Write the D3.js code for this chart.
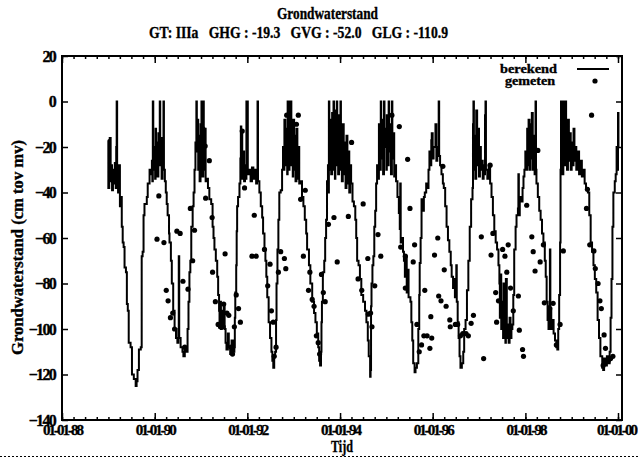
<!DOCTYPE html>
<html>
<head>
<meta charset="utf-8">
<script src="https://d3js.org/d3.v7.min.js"></script>
<style>
  body { margin: 0; background: #fff; }
  text { font-family: "Liberation Serif", "Times New Roman", serif; font-weight: bold; fill: #000; stroke: #000; stroke-width: 0.35px; }
</style>
</head>
<body>
<div id="grafiek"></div>
<script>
// Titels en asteksten
var titel = "Grondwaterstand";
var subtitel = "GT: IIIa   GHG : -19.3   GVG : -52.0   GLG : -110.9";
var yLabel = "Grondwaterstand (cm tov mv)";
var xLabel = "Tijd";
var legendaNamen = ["berekend", "gemeten"];
var yTicks = [20, 0, -20, -40, -60, -80, -100, -120, -140];
var xTickJaren = [1988, 1990, 1992, 1994, 1996, 1998, 2000];

// berekend: [decimaal jaar, cm tov mv]
var berekend = [
[1988.99,-17],[1989.00,-38],[1989.02,-30],[1989.03,-16],[1989.05,-35],[1989.07,-28],[1989.08,-39],[1989.10,-30],[1989.12,-36],[1989.14,-27],[1989.16,-38],[1989.17,-20],[1989.18,0],[1989.19,-30],[1989.21,-40],[1989.23,-28],[1989.25,-46],[1989.27,-42],[1989.29,-55],[1989.31,-62],[1989.33,-64],[1989.35,-73],[1989.38,-75],[1989.40,-89],[1989.42,-92],[1989.44,-106],[1989.48,-108],[1989.51,-120],[1989.55,-122],[1989.59,-125],[1989.61,-123],[1989.63,-118],[1989.66,-109],[1989.70,-108],[1989.72,-90],[1989.72,-68],[1989.74,-66],[1989.76,-50],[1989.78,-45],[1989.83,-42],[1989.85,-36],[1989.89,-30],[1989.92,-32],[1989.94,-26],[1989.95,-35],[1989.96,0],[1989.97,-30],[1990.00,-20],[1990.01,-34],[1990.02,-12],[1990.03,-30],[1990.04,-18],[1990.06,-33],[1990.08,-14],[1990.10,-28],[1990.11,0],[1990.12,-25],[1990.14,-16],[1990.15,-34],[1990.17,-20],[1990.19,0],[1990.20,-30],[1990.22,-35],
[1990.24,-40],[1990.26,-45],[1990.28,-50],[1990.31,-58],[1990.32,-62],[1990.35,-70],[1990.37,-80],[1990.40,-92],[1990.43,-100],[1990.46,-104],[1990.49,-106],[1990.51,-100],[1990.52,-68],[1990.53,-104],[1990.56,-108],[1990.60,-110],[1990.62,-112],[1990.65,-108],[1990.68,-110],[1990.71,-100],[1990.73,-88],[1990.75,-75],[1990.77,-70],[1990.79,-55],[1990.82,-46],[1990.84,-40],[1990.86,-30],[1990.88,-18],[1990.90,0],[1990.91,-22],[1990.93,-8],[1990.94,-30],[1990.96,-15],[1990.97,-35],[1990.99,-10],[1991.00,-28],[1991.01,0],[1991.02,-20],[1991.03,-33],[1991.05,0],[1991.06,-18],[1991.07,-30],[1991.09,-12],[1991.10,-35],
[1991.12,-34],[1991.15,-38],[1991.18,-43],[1991.22,-45],[1991.25,-55],[1991.27,-60],[1991.29,-65],[1991.32,-70],[1991.35,-77],[1991.37,-85],[1991.39,-92],[1991.40,-97],[1991.42,-88],[1991.43,-100],[1991.45,-92],[1991.47,-98],[1991.49,-90],[1991.51,-100],[1991.53,-106],[1991.55,-109],[1991.58,-102],[1991.60,-108],[1991.63,-111],[1991.66,-105],[1991.69,-110],[1991.72,-108],[1991.73,-95],[1991.74,-84],[1991.76,-72],[1991.77,-57],[1991.78,-46],[1991.80,-42],[1991.83,-36],[1991.85,-25],[1991.86,-11],[1991.87,-30],[1991.88,-14],[1991.89,-34],[1991.91,-22],[1991.93,-35],[1991.95,-28],[1991.97,-34],[1991.98,0],[1991.99,-30],[1992.00,0],[1992.01,-32],[1992.04,-30],[1992.07,-35],[1992.10,-29],[1992.13,-34],[1992.16,-30],[1992.19,-36],[1992.21,-32],[1992.22,0],[1992.23,-35],
[1992.26,-40],[1992.29,-46],[1992.32,-51],[1992.34,-58],[1992.37,-65],[1992.39,-70],[1992.41,-77],[1992.43,-86],[1992.46,-97],[1992.49,-104],[1992.52,-110],[1992.54,-114],[1992.56,-117],[1992.58,-112],[1992.60,-110],[1992.62,-96],[1992.63,-80],[1992.65,-65],[1992.67,-52],[1992.69,-40],[1992.72,-39],[1992.75,-30],[1992.77,-20],[1992.79,-30],[1992.80,-8],[1992.82,-28],[1992.84,-12],[1992.86,-32],[1992.87,0],[1992.88,-25],[1992.89,-6],[1992.90,-30],[1992.91,0],[1992.92,-18],[1992.94,0],[1992.95,-28],[1992.96,-10],[1992.98,-33],[1992.99,-8],[1993.01,-30],[1993.02,-15],[1993.04,-35],[1993.06,-12],[1993.08,-34],[1993.10,-20],[1993.12,-36],
[1993.15,-35],[1993.18,-42],[1993.21,-46],[1993.24,-52],[1993.27,-58],[1993.29,-65],[1993.33,-72],[1993.36,-80],[1993.40,-88],[1993.44,-93],[1993.47,-97],[1993.50,-102],[1993.53,-108],[1993.55,-114],[1993.57,-116],[1993.59,-110],[1993.60,-97],[1993.61,-88],[1993.63,-75],[1993.66,-70],[1993.68,-60],[1993.70,-52],[1993.72,-35],[1993.74,-28],[1993.75,-40],[1993.76,0],[1993.77,-30],[1993.79,-8],[1993.81,-32],[1993.83,-5],[1993.85,-30],[1993.86,0],[1993.87,-20],[1993.89,-34],[1993.90,-4],[1993.92,-28],[1993.93,0],[1993.94,-15],[1993.96,-32],[1993.98,-6],[1994.00,-30],[1994.01,0],[1994.02,-20],[1994.04,-35],[1994.06,-10],[1994.08,-32],[1994.10,-18],[1994.12,-38],[1994.14,-15],[1994.16,-36],[1994.18,-22],[1994.20,-40],
[1994.22,-28],[1994.24,-36],[1994.27,-44],[1994.30,-46],[1994.33,-52],[1994.35,-60],[1994.37,-70],[1994.40,-72],[1994.43,-78],[1994.46,-85],[1994.50,-88],[1994.54,-92],[1994.57,-97],[1994.60,-105],[1994.62,-112],[1994.65,-121],[1994.66,-118],[1994.67,-90],[1994.68,-80],[1994.70,-72],[1994.72,-68],[1994.74,-55],[1994.76,-48],[1994.78,-36],[1994.80,-28],[1994.82,-34],[1994.84,-10],[1994.86,-30],[1994.88,0],[1994.89,-25],[1994.91,-8],[1994.93,-32],[1994.95,0],[1994.96,-20],[1994.98,-12],[1995.00,-30],[1995.01,-6],[1995.03,-28],[1995.05,0],[1995.06,-22],[1995.08,-10],[1995.10,-32],[1995.12,0],[1995.13,-25],[1995.15,-14],[1995.17,-33],[1995.19,-28],
[1995.21,-35],[1995.24,-42],[1995.27,-49],[1995.29,-56],[1995.30,-36],[1995.31,-62],[1995.33,-60],[1995.36,-66],[1995.38,-70],[1995.40,-77],[1995.42,-68],[1995.44,-84],[1995.46,-74],[1995.48,-86],[1995.52,-88],[1995.54,-97],[1995.56,-105],[1995.58,-115],[1995.61,-119],[1995.63,-117],[1995.66,-115],[1995.69,-100],[1995.71,-85],[1995.72,-71],[1995.74,-60],[1995.76,-43],[1995.79,-48],[1995.81,-42],[1995.83,-40],[1995.86,-36],[1995.88,-38],[1995.91,-30],[1995.93,-22],[1995.95,-28],[1995.97,-17],[1995.98,-14],[1996.00,-25],[1996.02,-20],[1996.06,-10],[1996.08,-26],[1996.10,-20],[1996.13,0],[1996.14,-24],[1996.16,-28],[1996.19,-32],[1996.22,-36],[1996.24,-38],
[1996.27,-46],[1996.30,-55],[1996.33,-61],[1996.36,-66],[1996.39,-72],[1996.41,-77],[1996.44,-82],[1996.46,-78],[1996.48,-86],[1996.50,-84],[1996.51,-72],[1996.52,-88],[1996.54,-97],[1996.56,-104],[1996.58,-112],[1996.60,-117],[1996.63,-115],[1996.66,-110],[1996.68,-100],[1996.71,-96],[1996.74,-83],[1996.77,-70],[1996.80,-55],[1996.83,-43],[1996.86,-38],[1996.87,-10],[1996.88,0],[1996.89,-30],[1996.91,-15],[1996.92,-34],[1996.94,-4],[1996.96,-28],[1996.98,-12],[1997.00,-33],[1997.02,-20],[1997.04,-30],[1997.06,-26],[1997.08,-34],[1997.10,-28],[1997.12,-32],[1997.13,-6],[1997.14,0],[1997.15,-30],[1997.18,-34],[1997.21,-28],[1997.24,-36],
[1997.27,-42],[1997.30,-50],[1997.33,-57],[1997.36,-62],[1997.39,-65],[1997.42,-72],[1997.44,-80],[1997.45,-95],[1997.46,-76],[1997.48,-100],[1997.50,-88],[1997.52,-104],[1997.53,-80],[1997.55,-100],[1997.57,-106],[1997.58,-78],[1997.60,-104],[1997.62,-98],[1997.64,-106],[1997.66,-95],[1997.68,-104],[1997.70,-100],[1997.72,-98],[1997.74,-85],[1997.76,-65],[1997.79,-55],[1997.81,-50],[1997.84,-47],[1997.85,-32],[1997.86,-50],[1997.88,-42],[1997.91,-44],[1997.94,-38],[1997.96,-33],[1997.98,-30],[1998.00,-22],[1998.02,-30],[1998.04,-12],[1998.06,-28],[1998.07,-8],[1998.09,-30],[1998.11,-10],[1998.13,-25],[1998.14,-5],[1998.16,-30],[1998.18,-15],[1998.20,-32],[1998.22,0],[1998.23,-30],[1998.24,-36],
[1998.27,-42],[1998.30,-48],[1998.33,-52],[1998.36,-58],[1998.39,-62],[1998.42,-70],[1998.44,-77],[1998.46,-88],[1998.48,-96],[1998.50,-100],[1998.52,-90],[1998.53,-65],[1998.54,-92],[1998.56,-100],[1998.58,-96],[1998.61,-102],[1998.64,-105],[1998.67,-108],[1998.69,-109],[1998.71,-100],[1998.73,-85],[1998.75,-62],[1998.76,-30],[1998.77,0],[1998.78,-25],[1998.79,-10],[1998.80,-32],[1998.82,0],[1998.83,-22],[1998.84,-8],[1998.85,-28],[1998.87,0],[1998.88,-20],[1998.90,-30],[1998.92,-8],[1998.94,-26],[1998.96,-14],[1998.98,-30],[1999.00,-18],[1999.02,-28],[1999.04,-12],[1999.06,-26],[1999.08,-20],[1999.10,-30],[1999.13,-22],[1999.16,-32],[1999.19,-26],[1999.22,-33],[1999.25,-30],
[1999.28,-36],[1999.31,-38],[1999.35,-40],[1999.38,-50],[1999.41,-62],[1999.44,-66],[1999.47,-72],[1999.50,-78],[1999.53,-84],[1999.56,-96],[1999.59,-104],[1999.62,-112],[1999.66,-117],[1999.68,-118],[1999.70,-113],[1999.73,-116],[1999.76,-112],[1999.79,-115],[1999.82,-110],[1999.84,-95],[1999.86,-78],[1999.88,-55],[1999.90,-40],[1999.93,-35],[1999.95,-32],[1999.97,-20],[1999.98,-30],[2000.00,-5],[2000.01,-20]
];

// gemeten: [decimaal jaar, cm tov mv]
var gemeten = [
[1990.09,-41.5],[1990.05,-60.5],[1990.20,-62],[1990.25,-83],[1990.29,-87.6],[1990.34,-95],[1990.39,-93],[1990.43,-100],[1990.48,-57],[1990.55,-58],[1990.61,-79],[1990.65,-108],[1990.72,-82.5],[1990.77,-47],[1990.82,-70],[1990.86,-56.6],
[1991.04,-12],[1991.09,-19.6],[1991.10,-42.5],[1991.18,-26],[1991.24,-51],[1991.25,-75],[1991.31,-88],[1991.37,-98],[1991.42,-99],[1991.48,-99],[1991.49,-89],[1991.52,-67],[1991.56,-93],[1991.60,-94],[1991.65,-108],[1991.68,-111],[1991.72,-99],[1991.76,-85],[1991.81,-91],[1991.85,-97],[1991.89,-13],[1991.94,-38],
[1992.10,-68],[1992.19,-68],[1992.15,-50],[1992.37,-65],[1992.44,-81],[1992.49,-71.5],[1992.52,-92],[1992.56,-97],[1992.58,-112],[1992.62,-108],[1992.67,-75],[1992.72,-66],[1992.80,-69],[1992.83,-73.5],[1992.85,-6],
[1993.06,-10],[1993.10,-6],[1993.15,-43],[1993.21,-68],[1993.25,-39],[1993.32,-83],[1993.35,-75],[1993.40,-87],[1993.44,-90],[1993.49,-103],[1993.53,-106],[1993.56,-111],[1993.60,-76],[1993.64,-84],[1993.68,-88],[1993.75,-54],[1993.87,-51],[1993.94,-70.5],
[1994.18,-50.5],[1994.25,-18],[1994.39,-78],[1994.47,-83],[1994.50,-45],[1994.60,-69],[1994.61,-93.5],[1994.66,-93],[1994.69,-99],[1994.75,-81],[1994.82,-58.5],[1994.88,-68],
[1995.12,-6],[1995.28,-11],[1995.31,-64],[1995.41,-68],[1995.41,-82],[1995.46,-25.4],[1995.51,-47],[1995.58,-70.5],[1995.61,-63],[1995.66,-98],[1995.71,-110],[1995.76,-107],[1995.81,-103],[1995.83,-83],[1995.88,-103],[1995.94,-108.5],[1995.96,-94.6],[1995.98,-104],
[1996.04,-67.5],[1996.11,-60],[1996.13,-85.5],[1996.18,-87.6],[1996.22,-28.5],[1996.25,-74],[1996.29,-90],[1996.37,-96],[1996.38,-99],[1996.49,-98],[1996.54,-98],[1996.60,-103],[1996.65,-102],[1996.72,-102],[1996.77,-103],[1996.83,-97.5],[1996.88,-94],
[1997.05,-59.5],[1997.10,-113],[1997.24,-28],[1997.26,-67.5],[1997.30,-58],[1997.36,-84],[1997.38,-97],[1997.42,-87.6],[1997.51,-65],[1997.55,-96],[1997.56,-68],[1997.60,-75],[1997.63,-63],[1997.68,-82],[1997.74,-92],[1997.85,-85.5],[1997.87,-100.5],[1997.94,-109],[1997.96,-112],
[1998.03,-45.6],[1998.14,-59.5],[1998.17,-66],[1998.21,-74.5],[1998.27,-21.5],[1998.32,-70.5],[1998.39,-63],[1998.41,-88.5],[1998.53,-91],[1998.60,-88.7],[1998.67,-107],[1998.75,-98],[1998.82,-65.7],
[1999.32,-47],[1999.34,-38.6],[1999.39,-63],[1999.43,-6],[1999.48,-65.7],[1999.51,-73.4],[1999.57,-80],[1999.61,-87.6],[1999.64,-91],[1999.68,-116],[1999.70,-102.6],[1999.73,-108.5],[1999.79,-114],[1999.84,-113],[1999.89,-112]
];

function naarDatum(jaar) {
    // decimaal jaar -> Date
    var begin = new Date(1988, 0, 1).getTime();
    return new Date(begin + (jaar - 1988) * 365.25 * 864e5);
}

// tekst in de smalle gnuplot-letter: vaste breedte
function smal(sel, lengte) {
    return sel.attr("textLength", lengte).attr("lengthAdjust", "spacingAndGlyphs");
}

var breedte = 638, hoogte = 462;
var links = 62, rechts = 622, boven = 56, onder = 420;

var svg = d3.select("#grafiek").append("svg")
    .attr("width", breedte)
    .attr("height", hoogte);

// 01-01-00 ligt net binnen de rechterrand
var x = d3.scaleTime()
    .domain([new Date(1988, 0, 1), new Date(2000, 0, 1)])
    .range([links, 618]);

var y = d3.scaleLinear()
    .domain([-140, 20])
    .range([onder, boven]);

var fmt = d3.timeFormat("%d-%m-%y");
var hoofdTicks = xTickJaren.map(function(j) { return new Date(j, 0, 1); });
var kwartTicks = d3.timeMonth.every(3).range(new Date(1988, 0, 1), new Date(2000, 0, 2));

// minor ticks onder en boven
svg.append("g")
    .attr("transform", "translate(0," + onder + ")")
    .call(d3.axisBottom(x).tickValues(kwartTicks).tickSize(-3).tickSizeOuter(0).tickFormat(""));
svg.append("g")
    .attr("transform", "translate(0," + boven + ")")
    .call(d3.axisTop(x).tickValues(kwartTicks).tickSize(-3).tickSizeOuter(0).tickFormat(""));

// hoofdticks
var xAs = svg.append("g")
    .attr("transform", "translate(0," + onder + ")")
    .call(d3.axisBottom(x).tickValues(hoofdTicks).tickSize(-7).tickSizeOuter(0).tickPadding(4).tickFormat(fmt));
svg.append("g")
    .attr("transform", "translate(0," + boven + ")")
    .call(d3.axisTop(x).tickValues(hoofdTicks).tickSize(-7).tickSizeOuter(0).tickFormat(""));

var yAs = svg.append("g")
    .attr("transform", "translate(" + links + ",0)")
    .call(d3.axisLeft(y).tickValues(yTicks).tickSize(-6).tickSizeOuter(0).tickPadding(7));
svg.append("g")
    .attr("transform", "translate(" + rechts + ",0)")
    .call(d3.axisRight(y).tickValues(yTicks).tickSize(-6).tickSizeOuter(0).tickFormat(""));

svg.selectAll(".domain").remove();
svg.selectAll(".tick line").attr("stroke", "#000").attr("stroke-width", 1.5);
xAs.selectAll("text").style("font-size", "15px").style("letter-spacing", "-2px");
xAs.selectAll(".tick:last-of-type text").attr("dx", "-2px");
yAs.selectAll("text").style("font-size", "16px").style("letter-spacing", "-1.7px");

// lijn berekend (trapjes zoals de modeluitvoer)
var lijn = d3.line()
    .curve(d3.curveStepAfter)
    .x(function(d) { return x(naarDatum(d[0])); })
    .y(function(d) { return y(d[1]); });

svg.append("path")
    .datum(berekend)
    .attr("d", lijn)
    .attr("fill", "none")
    .attr("stroke", "#000")
    .attr("stroke-width", 2);

// punten gemeten
svg.selectAll("circle.gemeten")
    .data(gemeten)
    .enter()
    .append("circle")
    .attr("class", "gemeten")
    .attr("cx", function(d) { return x(naarDatum(d[0])); })
    .attr("cy", function(d) { return y(d[1]); })
    .attr("r", 2.6)
    .attr("fill", "#000");

// kader
svg.append("rect")
    .attr("x", links)
    .attr("y", boven)
    .attr("width", rechts - links)
    .attr("height", onder - boven)
    .attr("fill", "none")
    .attr("stroke", "#000")
    .attr("stroke-width", 2);

// titels
smal(svg.append("text")
    .attr("x", 277).attr("y", 19)
    .style("font-size", "16px")
    .text(titel), 101);
smal(svg.append("text")
    .attr("x", 149).attr("y", 38)
    .style("font-size", "16px")
    .style("white-space", "pre")
    .text(subtitel), 299);

smal(svg.append("text")
    .attr("transform", "translate(23,355) rotate(-90)")
    .style("font-size", "16.5px")
    .text(yLabel), 215);
smal(svg.append("text")
    .attr("x", 331).attr("y", 452)
    .style("font-size", "16px")
    .text(xLabel), 22);

// legenda
smal(svg.append("text")
    .attr("x", 500).attr("y", 73)
    .style("font-size", "12.5px")
    .text(legendaNamen[0]), 57);
svg.append("line")
    .attr("x1", 577).attr("x2", 609)
    .attr("y1", 69).attr("y2", 69)
    .attr("stroke", "#000").attr("stroke-width", 2);
smal(svg.append("text")
    .attr("x", 505).attr("y", 85)
    .style("font-size", "12.5px")
    .text(legendaNamen[1]), 50);
svg.append("circle")
    .attr("cx", 595).attr("cy", 81).attr("r", 2.6)
    .attr("fill", "#000");

// stippellijn onderaan
svg.append("line")
    .attr("x1", 0).attr("x2", breedte)
    .attr("y1", 456.5).attr("y2", 456.5)
    .attr("stroke", "#000")
    .attr("stroke-width", 1)
    .attr("stroke-dasharray", "2,2");
</script>
</body>
</html>
